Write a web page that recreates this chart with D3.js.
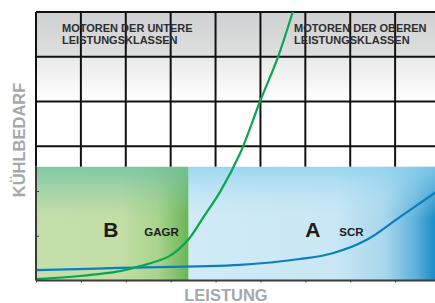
<!DOCTYPE html>
<html>
<head>
<meta charset="utf-8">
<script src="https://cdn.jsdelivr.net/npm/d3@7"></script>
<style>
  body { margin: 0; background: #fff; }
  svg { display: block; font-family: "Liberation Sans", Arial, sans-serif; }
</style>
</head>
<body>
<div id="chart"></div>
<script>
// grid / ticks (Leistung 0..9, Kühlbedarf 0..6)
const xTicks = [0, 1, 2, 3, 4, 5, 6, 7, 8, 9];
const yGrid = [3, 4, 5, 6];
const yTicks = [1, 2];
const zoneTop = 2.54;
const zoneSplit = 3.4;

// GAGR (green) curve
const gagrX = [0, 0.98, 1.87, 2.32, 2.98, 3.39, 3.72, 4.10, 4.55, 4.99, 5.39, 5.72, 5.8];
const gagrY = [0.03, 0.1, 0.21, 0.32, 0.55, 0.91, 1.40, 1.98, 2.85, 4.0, 4.99, 6.0, 6.25];

// SCR (blue) curve
const scrX = [0, 1.87, 4.54, 5.88, 6.61, 7.37, 8.11, 8.89, 9];
const scrY = [0.23, 0.28, 0.35, 0.48, 0.61, 0.91, 1.42, 1.96, 2.03];

const headers = [
  { x: 0.58, lines: ['MOTOREN DER UNTERE', 'LEISTUNGSKLASSEN'] },
  { x: 5.75, lines: ['MOTOREN DER OBEREN', 'LEISTUNGSKLASSEN'] }
];
const zoneLabels = [
  { x: 1.5, big: 'B', small: 'GAGR', dx: 41 },
  { x: 6.0, big: 'A', small: 'SCR', dx: 34 }
];

const width = 435, height = 303;
const svg = d3.select('#chart').append('svg')
  .attr('width', width).attr('height', height);

const x = d3.scaleLinear().domain([0, 9]).range([36, 440]);
const y = d3.scaleLinear().domain([0, 6]).range([280.5, 12]);

const defs = svg.append('defs');
const grad = (id, stops, vertical) => {
  const g = defs.append('linearGradient').attr('id', id)
    .attr('x1', 0).attr('y1', 0)
    .attr('x2', vertical ? 0 : 1).attr('y2', vertical ? 1 : 0);
  stops.forEach(s => g.append('stop').attr('offset', s[0])
    .attr('stop-color', s[1]).attr('stop-opacity', s[2] === undefined ? 1 : s[2]));
};
grad('head', [[0, '#cfd0d1'], [0.5, '#dedfdf'], [0.52, '#e9eaea'], [1, '#ffffff']], true);
grad('greenH', [[0, '#c4dfaa'], [0.55, '#c3dea6'], [0.8, '#a9d38c'], [1, '#69b556']]);
grad('greenV', [[0, '#6fc2a4', 0.8], [0.45, '#8cc9a6', 0], [1, '#8cc9a6', 0]], true);
grad('blueH', [[0, '#d0ebf6'], [0.6, '#c9e7f4'], [0.8, '#a6d6ec'], [0.92, '#5fb2dc'], [1, '#1b8cc6']]);
grad('blueV', [[0, '#8fd2f0', 0.8], [0.45, '#bfe4f4', 0], [1, '#bfe4f4', 0]], true);

defs.append('clipPath').attr('id', 'plot')
  .append('rect').attr('x', 36).attr('y', y(6)).attr('width', width - 36).attr('height', y(0) - y(6));

// header shading
svg.append('rect').attr('x', x(0)).attr('y', y(6))
  .attr('width', width - x(0)).attr('height', y(4) - y(6))
  .attr('fill', 'url(#head)');

// grid
const grid = svg.append('g').attr('stroke', '#111').attr('stroke-width', 2);
grid.selectAll('line.v').data(xTicks).join('line').attr('class', 'v')
  .attr('x1', d => x(d)).attr('x2', d => x(d))
  .attr('y1', y(6)).attr('y2', y(zoneTop));
grid.selectAll('line.h').data(yGrid).join('line').attr('class', 'h')
  .attr('x1', x(0)).attr('x2', width)
  .attr('y1', d => y(d)).attr('y2', d => y(d));

// zones
const zones = svg.append('g');
zones.append('rect').attr('x', x(0)).attr('y', y(zoneTop))
  .attr('width', x(zoneSplit) - x(0)).attr('height', y(0) - y(zoneTop)).attr('fill', 'url(#greenH)');
zones.append('rect').attr('x', x(0)).attr('y', y(zoneTop))
  .attr('width', x(zoneSplit) - x(0)).attr('height', y(0) - y(zoneTop)).attr('fill', 'url(#greenV)');
zones.append('rect').attr('x', x(zoneSplit)).attr('y', y(zoneTop))
  .attr('width', width - x(zoneSplit)).attr('height', y(0) - y(zoneTop)).attr('fill', 'url(#blueH)');
zones.append('rect').attr('x', x(zoneSplit)).attr('y', y(zoneTop))
  .attr('width', width - x(zoneSplit)).attr('height', y(0) - y(zoneTop)).attr('fill', 'url(#blueV)');

// header text
headers.forEach(h => {
  const t = svg.append('text').attr('x', x(h.x)).attr('y', 32)
    .attr('font-size', 11).attr('font-weight', 'bold').attr('fill', '#2e2e2e');
  h.lines.forEach((l, i) => t.append('tspan').attr('x', x(h.x)).attr('dy', i ? 12.3 : 0).text(l));
});

// zone labels
zoneLabels.forEach(z => {
  svg.append('text').attr('x', x(z.x)).attr('y', 236.5)
    .attr('font-size', 21).attr('font-weight', 'bold').attr('fill', '#1c1c1c').text(z.big);
  svg.append('text').attr('x', x(z.x) + z.dx).attr('y', 236)
    .attr('font-size', 11.5).attr('font-weight', 'bold').attr('fill', '#1c1c1c').text(z.small);
});

// curves
const line = d3.line().x(d => x(d[0])).y(d => y(d[1])).curve(d3.curveCatmullRom.alpha(0.5));
const curves = svg.append('g').attr('clip-path', 'url(#plot)').attr('fill', 'none').attr('stroke-width', 2.2);
curves.append('path').datum(scrX.map((v, i) => [v, scrY[i]]))
  .attr('stroke', '#0a7fc0').attr('d', line);
curves.append('path').datum(gagrX.map((v, i) => [v, gagrY[i]]))
  .attr('stroke', '#0aa550').attr('d', line);

// axes
const xAxis = svg.append('g').attr('transform', `translate(0,${y(0)})`)
  .call(d3.axisBottom(x).tickValues(xTicks).tickSize(2).tickFormat(''));
const yAxis = svg.append('g').attr('transform', `translate(${x(0)},0)`)
  .call(d3.axisLeft(y).tickValues(yTicks).tickSize(-3).tickFormat(''));
[xAxis, yAxis].forEach(a => {
  a.select('.domain').attr('stroke', '#3a3a3a').attr('stroke-width', 2);
  a.selectAll('.tick line').attr('stroke', '#3a3a3a');
});
yAxis.select('.domain').attr('d', `M0,${y(0)}V${y(zoneTop)}`);
xAxis.select('.domain').attr('d', `M${x(0)},0H${width}`);

// axis titles
svg.append('text').attr('x', 226).attr('y', 301)
  .attr('text-anchor', 'middle').attr('font-size', 16.5).attr('font-weight', 'bold')
  .attr('fill', '#a6a8aa').text('LEISTUNG');
svg.append('text').attr('transform', 'translate(25,140) rotate(-90)')
  .attr('text-anchor', 'middle').attr('font-size', 16.5).attr('font-weight', 'bold')
  .attr('fill', '#a6a8aa').text('KÜHLBEDARF');
</script>
</body>
</html>
